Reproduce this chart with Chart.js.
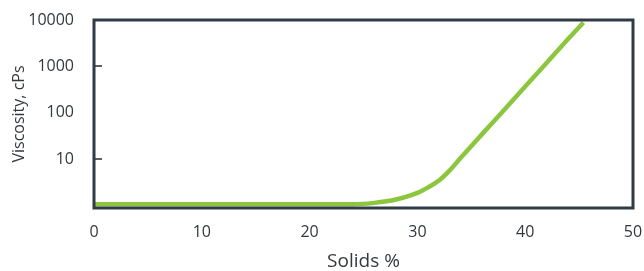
<!DOCTYPE html>
<html>
<head>
<meta charset="utf-8">
<script src="https://cdn.jsdelivr.net/npm/chart.js@4"></script>
<style>
  html, body { margin: 0; padding: 0; background: #fff; }
</style>
</head>
<body>
<canvas id="chartViscosity" width="644" height="271"></canvas>
<script>
// Viscosidad vs % sólidos (escala log)
const solids = [0, 10, 20, 24, 26, 28, 30, 31, 32, 33, 34, 36, 38, 40, 42, 44, 45.4];
const viscosity = [1.08, 1.08, 1.08, 1.08, 1.16, 1.37, 1.9, 2.5, 3.5, 5.8, 10.7, 35, 113, 370, 1200, 3950, 8800];
const yTicks = [10, 100, 1000, 10000];
const yTickMarks = [10, 1000];

const textColor = '#33383d';
const fontFamily = '"Open Sans", "Noto Sans", sans-serif';

// marco + marcas cortas por dentro del eje
const framePlugin = {
  id: 'frame',
  afterDraw(chart) {
    const { ctx, chartArea: a, scales } = chart;
    ctx.save();
    ctx.strokeStyle = '#5a5f63';
    ctx.lineWidth = 2;
    yTickMarks.forEach(v => {
      const y = Math.round(scales.y.getPixelForValue(v));
      ctx.beginPath();
      ctx.moveTo(a.left, y);
      ctx.lineTo(a.left + 8, y);
      ctx.stroke();
    });
    ctx.strokeStyle = '#2f3b45';
    ctx.lineWidth = 3;
    ctx.strokeRect(a.left, a.top, a.right - a.left, a.bottom - a.top);
    ctx.restore();
  }
};

const ctx = document.getElementById('chartViscosity');
new Chart(ctx, {
  type: 'line',
  data: {
    datasets: [{
      data: solids.map((s, i) => ({ x: s, y: viscosity[i] })),
      borderColor: '#8cc63f',
      borderWidth: 4.5,
      pointRadius: 0,
      cubicInterpolationMode: 'monotone',
      fill: false
    }]
  },
  options: {
    responsive: false,
    animation: false,
    layout: { padding: { top: 20, right: 11, left: 4, bottom: 0 } },
    plugins: { legend: { display: false }, tooltip: { enabled: false } },
    scales: {
      x: {
        type: 'linear',
        min: 0,
        max: 50,
        grid: { display: false, drawTicks: false },
        border: { display: false },
        afterFit: axis => {
          axis.height = 63;
          axis.paddingLeft = 0;
          axis.paddingRight = 0;
        },
        ticks: { stepSize: 10, padding: 15, maxRotation: 0, color: textColor, font: { family: fontFamily, size: 16 } },
        title: { display: true, text: 'Solids %', color: textColor, padding: { top: 9, bottom: -2 }, font: { family: fontFamily, size: 19 } }
      },
      y: {
        type: 'logarithmic',
        min: 0.9,
        max: 10000,
        grid: { display: false, drawTicks: false },
        border: { display: false },
        afterBuildTicks: axis => { axis.ticks = yTicks.map(v => ({ value: v })); },
        afterFit: axis => {
          axis.width = 90;
          axis.paddingTop = 0;
          axis.paddingBottom = 0;
        },
        ticks: {
          padding: 20,
          color: textColor,
          font: { family: fontFamily, size: 16 },
          callback: v => String(v)
        },
        title: { display: true, text: 'Viscosity, cPs', color: textColor, padding: { top: 6, bottom: 3 }, font: { family: fontFamily, size: 16 } }
      }
    }
  },
  plugins: [framePlugin]
});
</script>
</body>
</html>
